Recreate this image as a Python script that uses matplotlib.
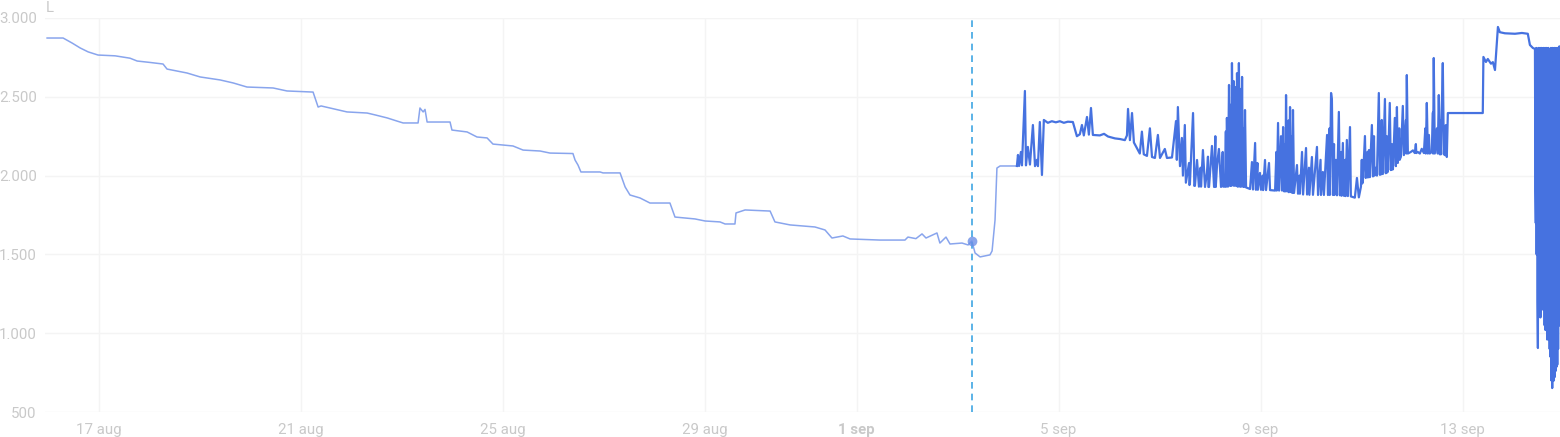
import matplotlib
matplotlib.use("Agg")
import matplotlib.pyplot as plt
from matplotlib.ticker import FuncFormatter
import numpy as np
import pandas as pd

plt.rcParams['font.family'] = ['Roboto', 'DejaVu Sans']

# ---------------- data ----------------
start = "2024-08-15 00:00"
unit = "L"

# hours since start, values (liters) - historic (faded) series
hist_hours = [23.3, 30.9, 35.2, 39.0, 42.8, 47.5, 55.6, 62.7, 66.1, 72.2, 78.4, 80.3, 89.8, 96.0,
              105.5, 111.7, 118.3, 130.7, 137.3, 149.7, 152.1, 153.5, 165.8, 175.4, 179.2, 184.9,
              189.6, 192.5, 199.6, 200.5, 202.0, 202.9, 203.9, 214.8, 215.7, 222.9, 227.6, 232.4,
              235.2, 244.7, 249.5, 257.6, 262.3, 273.2, 274.2, 275.6, 277.0, 286.1, 287.5, 295.6,
              298.0, 300.3, 305.1, 309.8, 319.3, 321.7, 331.2, 336.0, 343.1, 345.5, 350.2, 350.7,
              355.0, 366.9, 369.2, 376.4, 388.2, 393.0, 396.3, 401.5, 404.9, 419.1, 431.0, 432.4,
              436.2, 439.1, 441.0, 446.2, 447.6, 450.5, 452.4, 458.1, 461.0, 462.8, 464.3, 466.7,
              471.4, 472.4, 473.8, 474.7, 476.2, 484.2]
hist_values = [2873, 2873, 2841, 2810, 2785, 2765, 2760, 2745, 2727, 2718, 2708, 2676, 2651, 2626,
               2607, 2588, 2562, 2556, 2537, 2530, 2435, 2442, 2404, 2397, 2385, 2366,
               2346, 2334, 2334, 2429, 2404, 2420, 2340, 2340, 2289, 2277, 2245, 2239,
               2200, 2188, 2162, 2156, 2143, 2140, 2099, 2067, 2023, 2023, 2017, 2017,
               1928, 1877, 1858, 1826, 1826, 1737, 1725, 1712, 1706, 1693, 1693, 1763,
               1782, 1775, 1706, 1687, 1674, 1655, 1604, 1617, 1598, 1591, 1591, 1610,
               1600, 1630, 1604, 1636, 1572, 1610, 1566, 1572, 1560, 1585, 1509, 1484,
               1497, 1522, 1718, 2048, 2061, 2061]

# current series (main readings)
cur_hours = [484.2, 484.7, 485.2, 486.1, 486.6, 488.0, 488.5, 489.4, 490.4, 491.8, 492.8, 493.7,
             494.2, 495.1, 496.1, 497.0, 498.9, 500.8, 502.7, 504.6, 506.5, 508.4, 510.8, 512.7,
             514.1, 515.1, 516.0, 517.5, 518.4, 519.4, 520.3, 523.6, 525.6, 527.5, 530.8, 533.2,
             535.5, 536.5, 537.0, 537.9, 538.9, 539.8, 541.2, 542.6, 543.6, 544.5, 546.0, 547.4,
             548.4, 549.8, 551.2, 552.2, 554.5, 555.5, 557.9, 559.8, 560.2, 560.7, 561.7, 562.6,
             563.1, 564.0, 564.5, 566.4, 567.4, 567.9, 568.8, 569.8, 570.7, 572.6, 573.6, 574.5,
             575.5, 576.9, 577.9, 579.3, 580.2, 581.2, 583.1, 584.0, 584.5, 585.0, 585.5, 586.4,
             586.9, 587.8, 588.3, 588.8, 589.3, 589.7, 590.2, 591.2, 591.6, 592.6, 593.1, 595.0,
             595.9, 596.4, 597.4, 597.8, 599.7, 600.2, 602.1, 602.6, 604.0, 604.5, 606.9, 608.3,
             608.8, 609.7, 610.2, 610.7, 611.2, 612.1, 612.6, 613.1, 613.5, 614.0, 614.5, 615.4,
             615.9, 617.3, 617.8, 619.7, 620.2, 621.6, 622.1, 624.4, 624.9, 626.8, 627.3, 629.6,
             630.1, 631.6, 632.0, 633.5, 633.9, 634.4, 635.8, 636.3, 637.2, 637.7, 639.1, 639.6,
             641.0, 641.5, 642.5, 642.9, 644.8, 645.8, 646.7, 647.7, 648.6, 649.6, 650.0, 651.5,
             651.9, 652.9, 653.4, 654.8, 655.3, 656.2, 656.7, 657.6, 658.1, 659.1, 659.5, 660.5,
             661.4, 661.9, 662.9, 663.8, 664.3, 664.8, 665.2, 666.7, 667.6, 668.1, 669.5, 670.0,
             671.4, 672.4, 673.3, 674.7, 675.7, 676.6, 677.6, 679.0, 679.5, 680.0, 680.4, 681.4,
             682.3, 682.8, 683.8, 684.2, 684.7, 685.2, 686.1, 686.6, 687.1, 688.0, 688.5, 689.0,
             705.6, 705.9, 707.1, 708.0, 709.5, 710.4, 711.4, 712.8, 713.7, 716.1, 720.9, 724.2,
             727.0, 728.0, 729.4, 730.4]
cur_values = [2061, 2131, 2061, 2150, 2065, 2537, 2065, 2182, 2070, 2321, 2060, 2100,
              2060, 2340, 2004, 2353, 2335, 2345, 2338, 2345, 2335, 2342, 2340, 2250,
              2262, 2321, 2255, 2372, 2260, 2429, 2258, 2255, 2265, 2248, 2236, 2232,
              2225, 2255, 2423, 2225, 2397, 2210, 2175, 2140, 2279, 2135, 2125, 2300,
              2118, 2112, 2258, 2112, 2169, 2112, 2115, 2346, 2100, 2435, 2060, 2239,
              2000, 2321, 1955, 1945, 2245, 2397, 1935, 2099, 1930, 2162, 1928, 2017,
              1928, 2188, 1928, 2067, 2169, 1928, 1930, 2366, 1930, 2575, 1935, 2714,
              1940, 2562, 1935, 2650, 1930, 2714, 1930, 2626, 1930, 2416, 1925, 1915,
              2086, 1912, 2207, 1910, 2017, 1910, 2099, 1908, 2080, 1908, 1905, 2334,
              1905, 2250, 1905, 2308, 1900, 2511, 1900, 2300, 1895, 2435, 1895, 2416,
              1890, 2067, 1885, 2150, 1880, 2175, 1880, 2118, 1878, 2182, 1877, 2023,
              1877, 2258, 1877, 2524, 2480, 1877, 2100, 1875, 2404, 1875, 2207, 1872,
              2226, 1870, 2308, 1868, 1860, 1985, 1862, 1930, 1960, 2251, 1985, 2162,
              1990, 2321, 1995, 2050, 2000, 2524, 2005, 2353, 2010, 2486, 2015, 2030,
              2461, 2035, 2040, 2366, 2060, 2435, 2080, 2120, 2442, 2130, 2638, 2140,
              2150, 2160, 2143, 2150, 2140, 2170, 2143, 2461, 2140, 2258, 2140, 2150,
              2746, 2140, 2300, 2140, 2511, 2135, 2416, 2714, 2135, 2320, 2118, 2397,
              2397, 2753, 2721, 2740, 2710, 2720, 2670, 2943, 2910, 2903, 2900, 2905,
              2900, 2829, 2810, 2804]

# extra short spikes in the dense band (read from the filled region)
spike_hours = [566.0, 566.2, 568.3, 568.5, 571.5, 571.7, 575.0, 575.2, 578.5, 578.7, 582.0, 582.2,
               583.5, 583.7, 586.0, 586.2, 587.2, 587.4, 589.0, 589.1, 590.6, 590.8, 592.0, 592.2,
               598.5, 598.7, 601.0, 601.2, 607.5, 607.7, 611.6, 611.8, 613.3, 613.4, 615.0, 615.1,
               618.5, 618.7, 623.0, 623.2, 628.5, 628.7, 632.8, 632.9, 634.9, 635.1, 638.4, 638.5,
               640.3, 640.4, 648.1, 648.3, 650.8, 651.0, 653.9, 654.1, 657.1, 657.3, 660.0, 660.2,
               662.4, 662.6, 665.9, 666.1, 669.0, 669.2, 673.8, 674.0, 678.3, 678.5, 681.9, 682.0,
               685.6, 685.7, 687.5, 687.6]
spike_values = [2080, 1940, 2150, 1935, 2050, 1930, 2120, 1928, 2250, 1928, 2150, 1930,
                2280, 1930, 2450, 1935, 2600, 1935, 2500, 1930, 2550, 1930, 2300, 1928,
                2080, 1910, 2000, 1908, 2150, 1905, 2200, 1900, 2350, 1895, 2250, 1890,
                2000, 1885, 2050, 1878, 2100, 1877, 2300, 1877, 2200, 1877, 2150, 1872,
                2100, 1870, 2100, 1950, 2150, 1988, 2250, 2000, 2200, 2008, 2250, 2020,
                2200, 2038, 2300, 2100, 2350, 2140, 2200, 2143, 2300, 2140, 2400, 2140,
                2350, 2135, 2250, 2130]

# final rapid oscillation
osc_hours = [730.6, 730.8, 731.0, 731.2, 731.4, 731.6, 731.8, 732.0, 732.2, 732.4, 732.6, 732.8,
             733.0, 733.2, 733.4, 733.6, 733.8, 734.0, 734.2, 734.4, 734.6, 734.8, 735.0, 735.2,
             735.4, 735.6, 735.8, 736.0, 736.2, 736.4, 736.6, 736.8, 737.0, 737.2, 737.4, 737.6,
             737.8, 738.0, 738.2, 738.4, 738.6, 738.8, 739.0, 739.2, 739.4, 739.6, 739.8, 740.0,
             740.2, 740.4, 740.6, 740.8, 741.0, 741.2, 741.4, 741.6, 741.8, 742.0, 742.2]
osc_values = [1900, 1699, 2810, 1500, 2800, 1200, 906, 2810, 1300, 2800, 1250, 2810,
              1100, 2800, 1274, 2810, 1350, 2800, 1150, 2810, 1192, 2790, 1050, 2810,
              1020, 2800, 1100, 2810, 960, 2800, 1000, 2810, 957, 2790, 900, 2800,
              850, 2810, 700, 2800, 652, 2810, 750, 2800, 700, 2810, 722, 2800,
              760, 2810, 786, 2800, 800, 2810, 900, 2810, 1052, 2820, 1050]

marker_hour = 462.8
marker_value = 1585

x_ticks = ["2024-08-17", "2024-08-21", "2024-08-25", "2024-08-29", "2024-09-01",
           "2024-09-05", "2024-09-09", "2024-09-13"]
x_tick_labels = ["17 aug", "21 aug", "25 aug", "29 aug", "1 sep", "5 sep", "9 sep", "13 sep"]
y_ticks = [500, 1000, 1500, 2000, 2500, 3000]
x_range_hours = [22.3, 742.3]

# ---------------- plot ----------------
t0 = pd.Timestamp(start)
to_time = lambda hrs: [t0 + pd.Timedelta(hours=float(h)) for h in hrs]

all_h = np.array(cur_hours + spike_hours + osc_hours)
all_v = np.array(cur_values + spike_values + osc_values)
order = np.argsort(all_h, kind="stable")
all_h, all_v = all_h[order], all_v[order]

fig = plt.figure(figsize=(15.6, 4.37), dpi=100)
ax = fig.add_axes([45 / 1560, 25 / 437, 1515 / 1560, 394 / 437])

ax.plot(to_time(hist_hours), hist_values, color="#7c9beb", lw=1.1, alpha=0.9, zorder=3)
ax.plot(to_time(all_h), all_v, color="#4672e0", lw=1.6, zorder=4)

mt = t0 + pd.Timedelta(hours=marker_hour)
ax.axvline(mt, color="#3ea6e3", lw=1.2, dashes=(4, 3), zorder=5)
ax.plot([mt], [marker_value], "o", ms=7, color="#6d8fe6", alpha=0.8, mec="none", zorder=6)

ax.set_xlim(t0 + pd.Timedelta(hours=x_range_hours[0]), t0 + pd.Timedelta(hours=x_range_hours[1]))
ax.set_ylim(500, 3000)

ax.set_yticks(y_ticks)
ax.yaxis.set_major_formatter(FuncFormatter(lambda v, p: f"{int(v):,}".replace(",", ".")))
ax.set_xticks(pd.to_datetime(x_ticks))
ax.set_xticklabels(x_tick_labels)
for lab in ax.get_xticklabels():
    if lab.get_text() == "1 sep":
        lab.set_fontweight("bold")

lab_color = "#c9c9c9"
ax.tick_params(axis="both", length=0, labelsize=10.8, labelcolor=lab_color)
ax.tick_params(axis="y", pad=6)
ax.tick_params(axis="x", pad=8)
ax.grid(True, color="#f4f4f4", lw=1)
ax.set_axisbelow(True)
for s in ax.spines.values():
    s.set_visible(False)

fig.text(46 / 1560, 1 - 8 / 437, unit, color=lab_color, fontsize=10.8, va="center", ha="left")

fig.savefig("out.png", dpi=100, facecolor="white")
